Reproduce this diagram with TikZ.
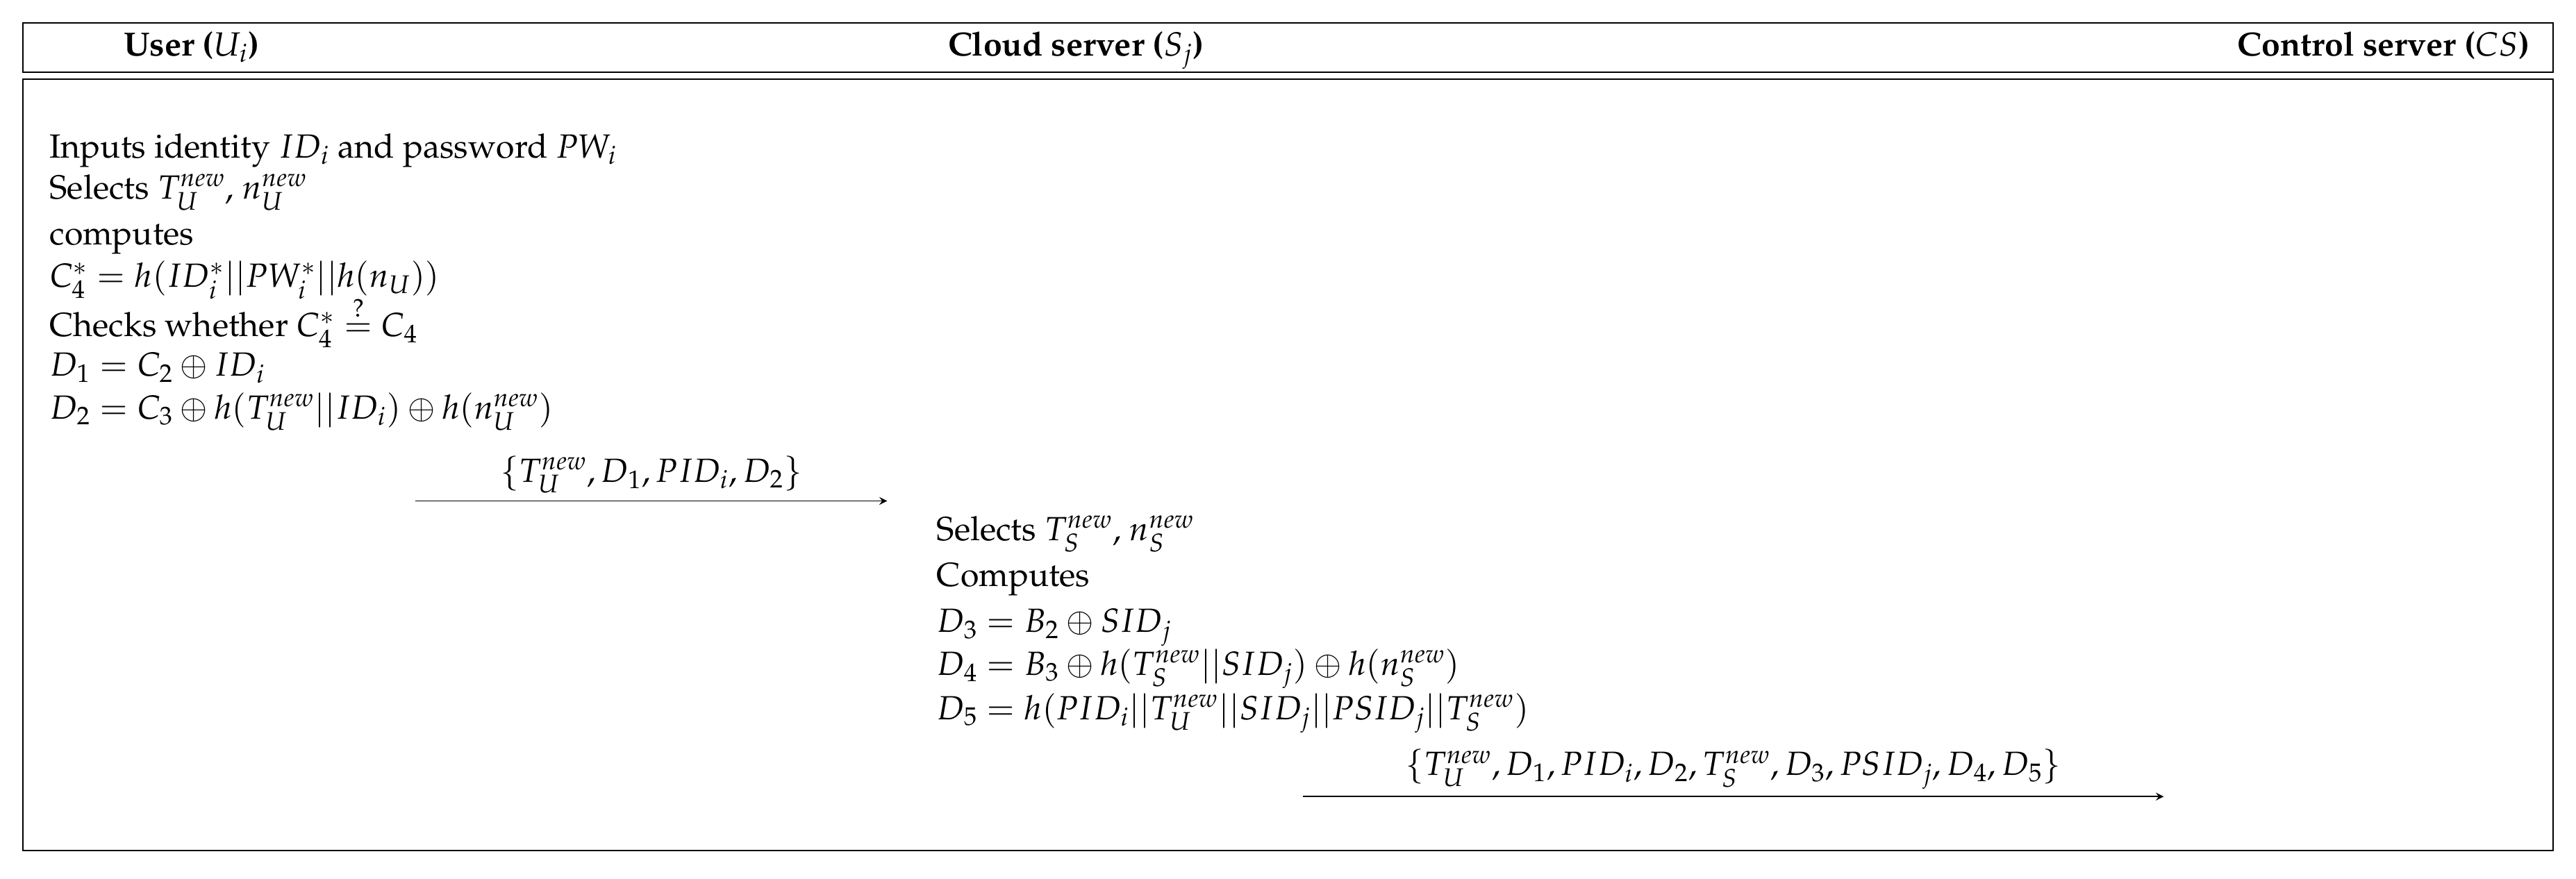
\documentclass[tikz,border=0pt]{standalone}
\usepackage[T1]{fontenc}
\usepackage{amsmath}
\usepackage{mathpazo}
\begin{document}
\begin{tikzpicture}[x=0.025cm,y=-0.025cm,
  t/.style={anchor=base west,inner sep=0pt,font=\fontsize{14.5}{16}\selectfont},
  h/.style={inner sep=0pt,font=\fontsize{14.5}{16}\selectfont\bfseries},
  lab/.style={inner sep=0pt,font=\fontsize{14.5}{16}\selectfont},
  msg/.style={-stealth,line width=0.5pt}]
\useasboundingbox (0,0) rectangle (1568,535);
\draw[line width=0.6pt] (14,14) rectangle (1554,44);
\draw[line width=0.6pt] (14,48) rectangle (1554,518);
\node[h,anchor=base west] (hu) at (75,34) {User ($U_i$)};
\node[h,anchor=base] (hs) at (655,34) {Cloud server ($S_j$)};
\node[h,anchor=base east] (hc) at (1540,34) {Control server ($CS$)};
\node[t] (u1) at (30,96) {Inputs identity $ID_i$ and password $PW_i$};
\node[t] (u2) at (30,121) {Selects $T_U^{new}$, $n_U^{new}$};
\node[t] (u3) at (30,149) {computes};
\node[t] (u4) at (30,175) {$C_4^* = h(ID_i^*||PW_i^*||h(n_U))$};
\node[t] (u5) at (30,205) {Checks whether $C_4^* \overset{?}{=} C_4$};
\node[t] (u6) at (30,229) {$D_1 = C_2 \oplus ID_i$};
\node[t] (u7) at (30,255) {$D_2 = C_3 \oplus h(T_U^{new}||ID_i)\oplus h(n_U^{new})$};
\coordinate (a1s) at (253,305);
\coordinate (a1e) at (540,305);
\draw[msg] (a1s) -- (a1e) node[lab,midway,above=3pt] (l1) {$\{T_U^{new}, D_1, PID_i, D_2\}$};
\node[t] (s1) at (570,329) {Selects $T_S^{new}$, $n_S^{new}$};
\node[t] (s2) at (570,357) {Computes};
\node[t] (s3) at (570,385) {$D_3 = B_2 \oplus SID_j$};
\node[t] (s4) at (570,411) {$D_4 = B_3 \oplus h(T_S^{new}||SID_j)\oplus h(n_S^{new})$};
\node[t] (s5) at (570,438) {$D_5 = h(PID_i||T_U^{new}||SID_j||PSID_j||T_S^{new})$};
\coordinate (a2s) at (793,485);
\coordinate (a2e) at (1317,485);
\draw[msg] (a2s) -- (a2e) node[lab,midway,above=3pt] (l2) {$\{T_U^{new}, D_1, PID_i, D_2, T_S^{new}, D_3, PSID_j, D_4, D_5\}$};
\end{tikzpicture}
\end{document}
